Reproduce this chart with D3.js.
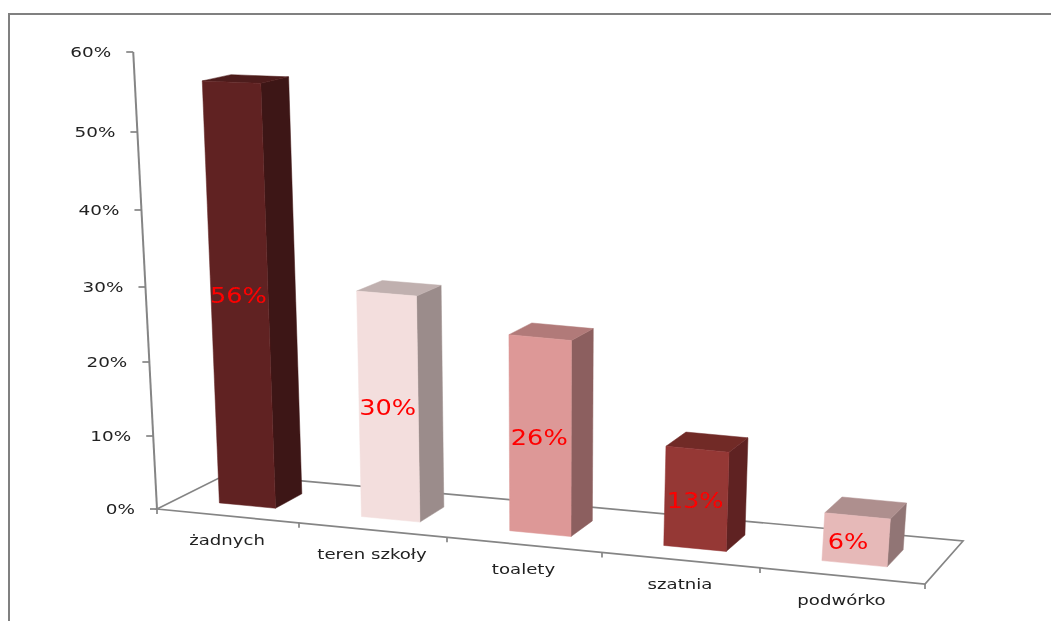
<!DOCTYPE html>
<html><head><meta charset="utf-8">
<script src="https://cdn.jsdelivr.net/npm/d3@7"></script>
<style>html,body{margin:0;padding:0;background:#fff}svg{display:block}text{font-family:"DejaVu Sans",sans-serif}</style>
</head><body><svg id="c" width="1051" height="621"></svg>
<script>
const categories = ["żadnych","teren szkoły","toalety","szatnia","podwórko"];
const values = [56,30,26,13,6];
const tickValues = [0,10,20,30,40,50,60];
const frontColors = ["#612323","#f3dedd","#dd9897","#953735","#e6b9b8"];
const sideColors  = ["#3e1514","#9b8c8b","#8c5f5e","#5e2321","#917574"];
const topColors   = ["#4d1b1a","#c0b0af","#b17a79","#712a28","#ae8f8e"];

const root = d3.select("#c");
root.append("defs").append("filter").attr("id","soft").attr("filterUnits","userSpaceOnUse")
  .attr("x",0).attr("y",0).attr("width",1051).attr("height",621)
  .append("feGaussianBlur").attr("stdDeviation",0.6);
const svg = root.append("g").attr("filter","url(#soft)");
svg.append("rect").attr("width",1051).attr("height",621).attr("fill","#fff");

// floor plane corners of the 3D box
const A=[157,509],B=[925,584],C=[963,541],D=[227,474];
const band = d3.scaleBand().domain(categories).range([0,5]).paddingInner(0.6).paddingOuter(0.3);
const along = d3.scaleLinear().domain([0,1,2,3,4,5]).range([0,142,290,445,603,768].map(v=>v/768));
const height = d3.scaleLinear().domain(tickValues).range([0,73,147,222,299,377,457]);
const lean = d3.scaleLinear().domain([157,925]).range([-0.052,0.03]);
const barExtra = d3.scaleLinear().domain([0.085,0.13,0.26]).range([-3,0,4]).clamp(true);
const depthFront=0.29, depthBack=0.69;
function floor(t,d){
  const f=[A[0]+(B[0]-A[0])*t,A[1]+(B[1]-A[1])*t], b=[D[0]+(C[0]-D[0])*t,D[1]+(C[1]-D[1])*t];
  return [f[0]+(b[0]-f[0])*d, f[1]+(b[1]-f[1])*d];
}
function project(u,d,v){
  const [x,y]=floor(along(u),d), h=height(v);
  return [x+lean(x)*h, y-h];
}
function projectBar(u,d,v){
  const t=along(u), [x,y]=floor(t,d), k=Math.min(1,v/5);
  const h=(height(v)+barExtra(t)*k)*(1-0.047*(d-depthFront));
  return [x+lean(x)*h+2*k, y-h];
}
const line=d3.line();
const path=(pts,close)=>line(pts)+(close?"Z":"");
const axisColor="#858585";
const label=(g,x,y,txt,size,sx,anchor,fill)=>g.append("text")
  .attr("transform",`translate(${x},${y}) scale(${sx},1)`).attr("text-anchor",anchor)
  .attr("font-size",size).attr("fill",fill).text(txt);
const face=(g,pts,col)=>g.append("path").attr("d",path(pts,true)).attr("fill",col).attr("stroke",col).attr("stroke-width",0.5);

svg.append("rect").attr("x",9).attr("y",14).attr("width",1060).attr("height",640).attr("fill","none").attr("stroke","#808080").attr("stroke-width",2);
svg.append("path").attr("d",path([project(0,0,0),project(0,1,0),project(5,1,0),project(5,0,0)],true)).attr("fill","none").attr("stroke",axisColor).attr("stroke-width",1.7);
svg.append("path").attr("d",path([project(0,0,0),project(0,0,60)])).attr("fill","none").attr("stroke",axisColor).attr("stroke-width",2);
tickValues.forEach(v=>{
  const p=project(0,0,v);
  svg.append("line").attr("x1",p[0]-7).attr("x2",p[0]).attr("y1",p[1]).attr("y2",p[1]).attr("stroke",axisColor).attr("stroke-width",1.7);
  label(svg,p[0]-22,p[1]+5,v+"%",14.5,1.27,"end","#222");
});
d3.range(0,6).forEach(i=>{
  const p=project(i,0,0);
  svg.append("line").attr("x1",p[0]).attr("x2",p[0]).attr("y1",p[1]).attr("y2",p[1]+5).attr("stroke",axisColor).attr("stroke-width",1.7);
});
categories.forEach((c,i)=>{
  const p=project(i+0.5,0,0);
  label(svg,p[0]-1,p[1]+29,c,14.5,1.25,"middle","#222");
});
values.forEach((v,i)=>{
  const u0=band(categories[i]), u1=u0+band.bandwidth();
  const g=svg.append("g"), p=projectBar;
  face(g,[p(u1,depthFront,0),p(u1,depthBack,0),p(u1,depthBack,v),p(u1,depthFront,v)],sideColors[i]);
  face(g,[p(u0,depthFront,v),p(u1,depthFront,v),p(u1,depthBack,v),p(u0,depthBack,v)],topColors[i]);
  face(g,[p(u0,depthFront,0),p(u1,depthFront,0),p(u1,depthFront,v),p(u0,depthFront,v)],frontColors[i]);
  const corners=[p(u0,depthFront,0),p(u1,depthFront,0),p(u0,depthFront,v),p(u1,depthFront,v)];
  const mx=d3.mean(corners,c=>c[0]), my=d3.mean(corners,c=>c[1]);
  label(g,mx+(i===4?-8:-1),my+9,v+"%",21,1.22,"middle","#ff0000");
});
</script></body></html>
